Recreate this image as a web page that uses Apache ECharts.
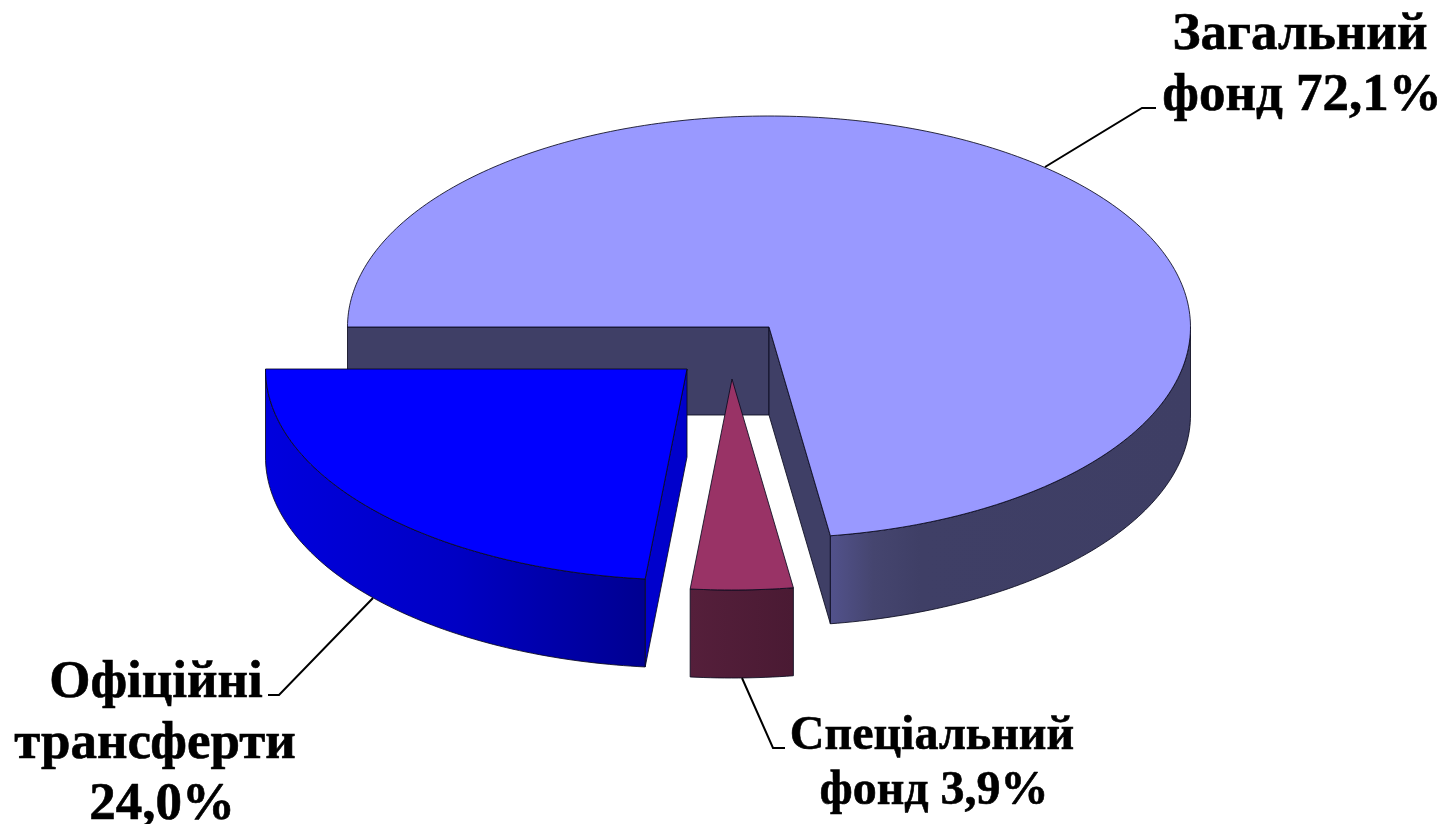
<!DOCTYPE html>
<html>
<head>
<meta charset="utf-8">
<style>html,body{margin:0;padding:0;background:#fff}#c{width:1452px;height:824px}</style>
<script src="https://cdn.jsdelivr.net/npm/echarts@6/dist/echarts.min.js"></script>
</head>
<body>
<div id="c"></div>
<script>
// ---- data ----
var categories = ['Загальний фонд', 'Спеціальний фонд', 'Офіційні трансферти'];
var shares = [72.1, 3.9, 24.0];
var labelLines = [
  ['Загальний', 'фонд 72,1%'],
  ['Спеціальний', 'фонд 3,9%'],
  ['Офіційні', 'трансферти', '24,0%']
];

// ---- layout and style, not data ----
var pie = { cx: 769, cy: 327, rx: 421.5, ry: 211, depth: 88, skewDeg: 2.1 };
var explode = [[0, 0], [-37, 52], [-82, 42]];
var topColor = ['#9999ff', '#993366', '#0000ff'];
var wallColor = ['#3f3f66', '#4d1c36', '#0000cc'];
var outerStops = [
  [[0, '#52528c'], [0.12, '#45456f'], [0.25, '#3f3f66'], [1, '#3e3e64']],
  [[0, '#551f3b'], [1, '#4a1a33']],
  [[0, '#0000de'], [0.5, '#0000c4'], [1, '#000090']]
];
var leaders = [
  [[1045, 167], [1142, 108], [1156, 108]],
  [[742, 678], [773, 748], [785, 748]],
  [[373, 598], [279, 695], [268, 695]]
];
var labelBox = [
  { x: [1300, 1302], y: 53, step: 61, size: 53 },
  { x: [932, 934], y: 753, step: 55, size: 48 },
  { x: [156, 155, 162], y: 701, step: 61, size: 53 }
];
var edge = 'rgba(10,10,30,0.85)';

var total = shares.reduce(function (a, b) { return a + b; }, 0);

// clockwise from 9 o'clock; the small skew stands for the view projection of the tilted disc
function project(theta, ox, oy, drop) {
  var r = theta * Math.PI / 180;
  var phi = r - (pie.skewDeg * Math.PI / 180) * Math.sin(r);
  return [pie.cx + ox - pie.rx * Math.cos(phi), pie.cy + oy - pie.ry * Math.sin(phi) + (drop || 0)];
}
function arc(a, b, ox, oy, drop) {
  var pts = [], n = Math.max(2, Math.ceil(Math.abs(b - a)));
  for (var i = 0; i <= n; i++) pts.push(project(a + (b - a) * i / n, ox, oy, drop));
  return pts;
}
function poly(points, fill) {
  return { type: 'polygon', silent: true, shape: { points: points },
    style: { fill: fill, stroke: edge, lineWidth: 1, lineJoin: 'round' } };
}

function renderItem(params, api) {
  var i = params.dataIndex;
  var before = 0;
  for (var k = 0; k < i; k++) before += shares[k];
  var a = before / total * 360;
  var b = a + api.value(0) / total * 360;
  var ox = explode[i][0], oy = explode[i][1], d = pie.depth;
  var apex = [pie.cx + ox, pie.cy + oy];
  var apexLow = [apex[0], apex[1] + d];
  var pa = project(a, ox, oy), pb = project(b, ox, oy);
  var children = [];

  // radial walls, only those that face the viewer
  if (pa[0] <= apex[0]) children.push(poly([apex, pa, [pa[0], pa[1] + d], apexLow], wallColor[i]));
  if (pb[0] > apex[0]) children.push(poly([apex, pb, [pb[0], pb[1] + d], apexLow], wallColor[i]));

  // outer wall: only the part of the rim on the front half (180..360)
  var fa = Math.max(a, 180), fb = Math.min(b, 360);
  if (fb > fa) {
    var upper = arc(fa, fb, ox, oy, 0);
    var lower = arc(fa, fb, ox, oy, d).reverse();
    var stops = outerStops[i].map(function (s) { return { offset: s[0], color: s[1] }; });
    // the gradient runs left to right on screen
    children.push(poly(upper.concat(lower),
      new echarts.graphic.LinearGradient(0, 0, 1, 0, stops)));
  }

  // top face
  children.push(poly([apex].concat(arc(a, b, ox, oy, 0)), topColor[i]));

  // leader line
  children.push({ type: 'polyline', silent: true, shape: { points: leaders[i] },
    style: { fill: null, stroke: '#000', lineWidth: 2 } });

  // label
  var box = labelBox[i];
  labelLines[i].forEach(function (line, n) {
    children.push({ type: 'text', silent: true, style: {
      text: line, x: box.x[n], y: box.y + n * box.step - 0.3375 * box.size,
      fill: '#000', stroke: '#000', lineWidth: 0.6,
      font: 'bold ' + box.size + 'px "Liberation Serif"',
      textAlign: 'center', textVerticalAlign: 'middle'
    } });
  });
  return { type: 'group', children: children };
}

var chart = echarts.init(document.getElementById('c'), null, { renderer: 'canvas' });
chart.setOption({
  animation: false,
  backgroundColor: '#fff',
  series: [{
    type: 'custom',
    coordinateSystem: 'none',
    renderItem: renderItem,
    clip: false,
    data: categories.map(function (c, i) { return { name: c, value: [shares[i]] }; })
  }]
});
</script>
</body>
</html>
